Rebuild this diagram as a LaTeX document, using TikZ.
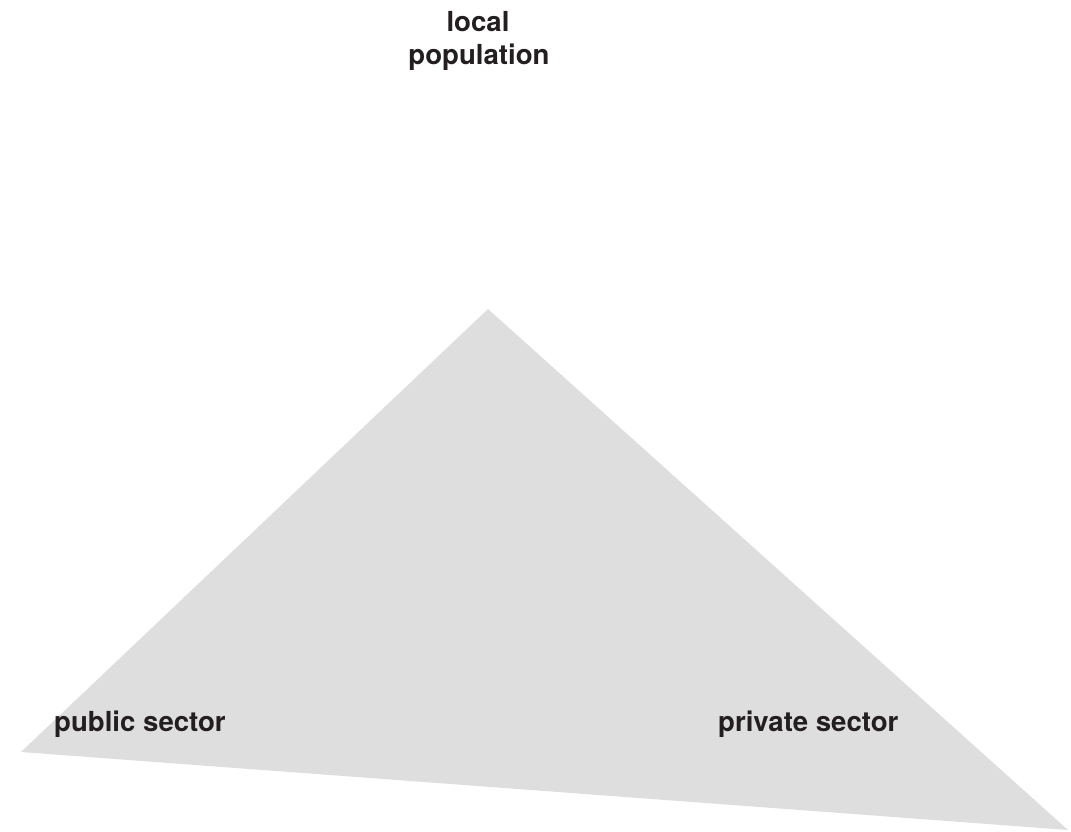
\documentclass[tikz,border=0pt]{standalone}
\usepackage{fontspec}
\setmainfont{TeX Gyre Heros}
\definecolor{trifill}{HTML}{DDDEDD}
\definecolor{txt}{HTML}{231F20}
\begin{document}
\begin{tikzpicture}[x=1pt,y=-1pt,
  lbl/.style={font=\fontsize{27.6}{33}\selectfont\bfseries, text=txt, inner sep=0pt}]
\useasboundingbox (0,0) rectangle (1071,832);
\coordinate (top) at (488,309);
\coordinate (left) at (21,752);
\coordinate (right) at (1068,830);
\fill[trifill] (top) -- (left) -- (right) -- cycle;
\node[lbl, anchor=base] (local) at (478,32) {local};
\node[lbl, anchor=base] (pop) at (479,65) {population};
\node[lbl, anchor=base west] (pub) at (54,731) {public sector};
\node[lbl, anchor=base west] (priv) at (718,731) {private sector};
\end{tikzpicture}
\end{document}
